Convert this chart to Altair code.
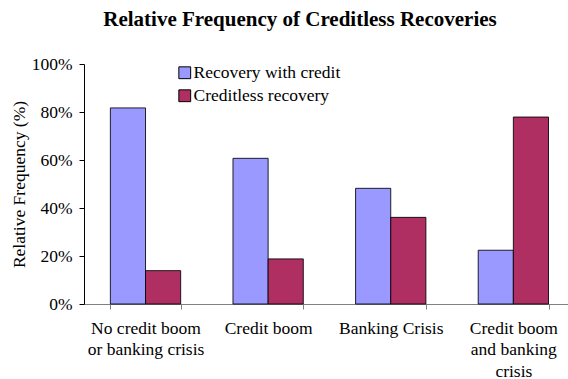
import altair as alt
import pandas as pd

categories = ["No credit boom|or banking crisis", "Credit boom", "Banking Crisis", "Credit boom|and banking|crisis"]
series = ["Recovery with credit", "Creditless recovery"]
with_credit = [0.817, 0.607, 0.482, 0.224]
creditless = [0.139, 0.188, 0.361, 0.779]
colors = ["#9999FF", "#AF2F62"]
y_ticks = [0, 0.2, 0.4, 0.6, 0.8, 1.0]

rows = []
for c, a, b in zip(categories, with_credit, creditless):
    rows.append({"category": c, "series": series[0], "value": a})
    rows.append({"category": c, "series": series[1], "value": b})
df = pd.DataFrame(rows)

FONT = "Liberation Serif, Times New Roman, serif"

chart = alt.Chart(df).mark_bar(stroke="black", strokeWidth=1, strokeOpacity=0.85).encode(
    x=alt.X(
        "category:N", sort=categories, title=None,
        scale=alt.Scale(paddingInner=0.4266, paddingOuter=0.187, align=0.575),
        axis=alt.Axis(
            labelAngle=0, labelExpr="split(datum.label, '|')", tickBand="extent",
            labelFont=FONT, labelFontSize=17.5, labelColor="black", labelLineHeight=21.5,
            labelPadding=10, labelLimit=0, domainColor="#808080", tickColor="#808080",
            tickSize=5, grid=False,
        ),
    ),
    xOffset=alt.XOffset("series:N", sort=series),
    y=alt.Y(
        "value:Q", scale=alt.Scale(domain=[0, 1]),
        axis=alt.Axis(
            format="%", values=y_ticks, title="Relative Frequency (%)",
            labelFont=FONT, labelFontSize=17.5, labelColor="black", labelPadding=7,
            tickSize=5, tickColor="black", domainColor="black", grid=False,
            titleFont=FONT, titleFontSize=17.5, titleFontWeight="normal", titleColor="black",
            titlePadding=3,
        ),
    ),
    color=alt.Color(
        "series:N",
        scale=alt.Scale(domain=series, range=colors),
        legend=alt.Legend(
            title=None, orient="none", legendX=92, legendY=0,
            labelFont=FONT, labelFontSize=17.5, labelColor="black",
            symbolType="square", symbolSize=140, symbolStrokeColor="black",
            symbolStrokeWidth=1, symbolOpacity=1, labelOffset=0, rowPadding=4, padding=0,
        ),
    ),
).properties(
    width=484,
    height=240,
    title=alt.TitleParams(
        "Relative Frequency of Creditless Recoveries", font=FONT, fontSize=21,
        fontWeight="bold", color="black", anchor="middle", dx=-26, offset=25,
    ),
    autosize=alt.AutoSizeParams(type="none"),
    padding={"left": 84, "top": 64, "right": 0, "bottom": 75},
).configure_view(stroke=None)

chart.save("out.html", embed_options={"renderer": "svg", "actions": False})
